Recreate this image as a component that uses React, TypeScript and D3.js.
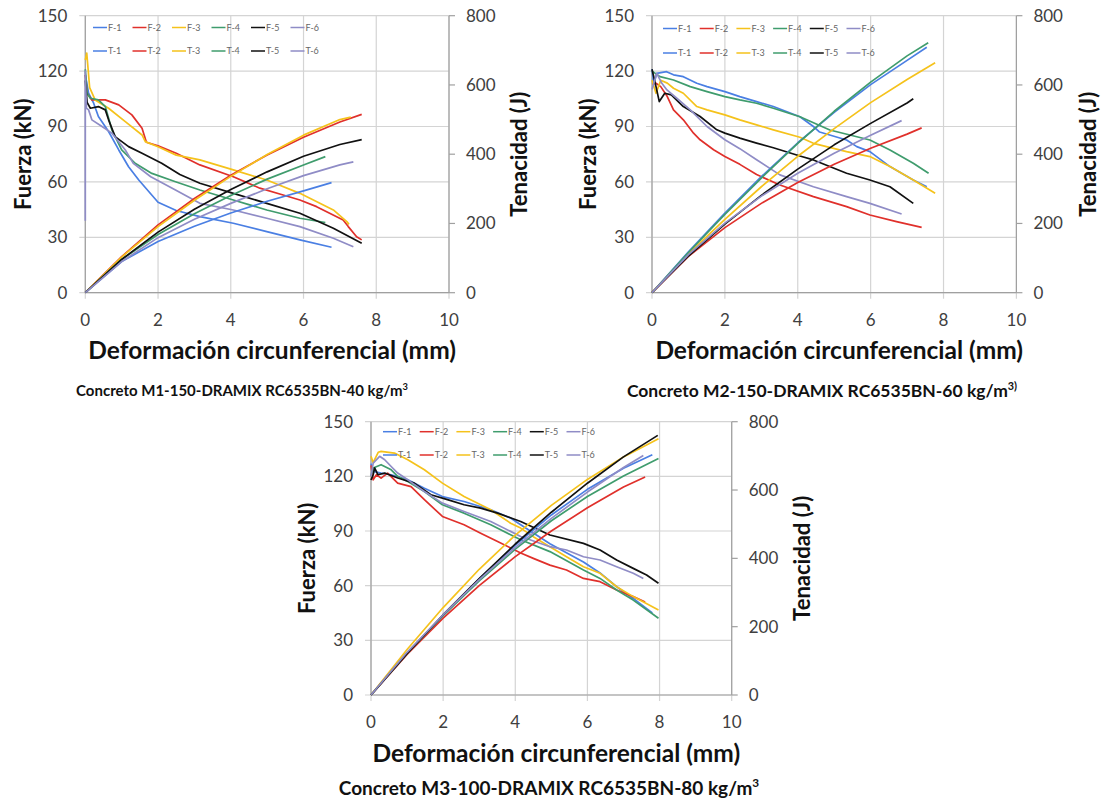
import React from "react";
import * as d3 from "d3";

type Pt = [number, number];

// ---------- axis ticks & labels ----------
const X_TICKS = [0, 2, 4, 6, 8, 10];
const F_TICKS = [0, 30, 60, 90, 120, 150];
const T_TICKS = [0, 200, 400, 600, 800];
const F_LABELS = ["F-1", "F-2", "F-3", "F-4", "F-5", "F-6"];
const T_LABELS = ["T-1", "T-2", "T-3", "T-4", "T-5", "T-6"];
const SERIES_COLORS = ["#4a7fe3", "#e0302b", "#f5c21b", "#3f9c6d", "#111111", "#8f8cc6"];

// ---------- M1 (40 kg/m3) : Fuerza (kN) vs mm ----------
const M1_F1: Pt[] = [[0, 118], [0.09, 108], [0.23, 102.6], [0.36, 95.4], [0.64, 87.3], [0.92, 77.3], [1.19, 68.2], [1.47, 61], [2.0, 49], [2.5, 44.5], [3.15, 41.2], [4.07, 37.6], [4.99, 33.1], [5.9, 28.6], [6.77, 24.6]];
const M1_F2: Pt[] = [[0, 118], [0.05, 108], [0.18, 104.4], [0.55, 104.4], [0.92, 101.7], [1.28, 96.3], [1.56, 89.1], [1.68, 81.5], [2.0, 79.5], [2.5, 75.5], [3.15, 69.2], [4.07, 62.8], [4.8, 56.6], [5.44, 52.9], [5.9, 50.2], [6.36, 46.6], [7.09, 39.4], [7.23, 35.8], [7.46, 30.3], [7.6, 28.6]];
const M1_F3: Pt[] = [[0, 126], [0.04, 129.7], [0.12, 111], [0.27, 104.4], [0.64, 99.9], [1.1, 92.6], [1.56, 85.4], [1.65, 81.8], [2.0, 79], [2.5, 74.5], [3.15, 71.9], [4.07, 66.5], [4.99, 61], [5.9, 53.8], [6.82, 44.8], [7.19, 38.5], [7.25, 37]];
const M1_F4: Pt[] = [[0, 121], [0.05, 108], [0.14, 105.3], [0.36, 104.4], [0.55, 100.8], [0.73, 88.2], [1.0, 77.3], [1.37, 70.1], [1.83, 64.6], [2.48, 60.1], [3.15, 55.6], [4.07, 50.2], [4.99, 44.8], [5.9, 40.3], [6.6, 38]];
const M1_F5: Pt[] = [[0, 115], [0.05, 103], [0.14, 99.9], [0.36, 100.8], [0.55, 99], [0.64, 93.6], [0.82, 84.5], [1.19, 79.1], [1.56, 75.5], [2.1, 70.1], [2.6, 64], [3.15, 59.3], [4.07, 53.8], [4.99, 48.4], [5.9, 43], [6.82, 34.9], [7.6, 26.8]];
const M1_F6: Pt[] = [[0, 39], [0, 120], [0.03, 100], [0.09, 99], [0.18, 93.6], [0.46, 90], [0.73, 86.4], [1.1, 77.3], [1.32, 70], [1.8, 62.8], [2.48, 55.6], [3.15, 48.4], [4.07, 44.8], [4.99, 40.3], [5.9, 35.8], [6.82, 29.5], [7.37, 24.9]];
// ---------- M1 : Tenacidad (J) vs mm ----------
const M1_T1: Pt[] = [[0, 0], [1, 90], [2, 148], [3, 192], [4, 230], [5, 264], [6, 294], [6.77, 318]];
const M1_T2: Pt[] = [[0, 0], [1, 104], [2, 196], [3, 272], [4, 339], [5, 398], [6, 449], [7, 493], [7.6, 515]];
const M1_T3: Pt[] = [[0, 0], [1, 103], [2, 191], [3, 267], [4, 336], [5, 399], [6, 455], [7, 500], [7.3, 507]];
const M1_T4: Pt[] = [[0, 0], [1, 96], [2, 168], [3, 228], [4, 281], [5, 328], [6, 369], [6.6, 393]];
const M1_T5: Pt[] = [[0, 0], [1, 96], [2, 175], [3, 241], [4, 298], [5, 349], [6, 394], [7, 428], [7.6, 442]];
const M1_T6: Pt[] = [[0, 0], [1, 90], [2, 159], [3, 212], [4, 258], [5, 300], [6, 338], [7, 369], [7.37, 378]];

// ---------- M2 (60 kg/m3) ----------
const M2_F1: Pt[] = [[0, 121], [0.05, 113], [0.13, 118.8], [0.4, 119.7], [0.59, 118], [0.86, 117], [1.23, 113.4], [1.51, 111.6], [2.0, 108.9], [2.41, 106.2], [2.87, 103.5], [3.33, 100.8], [4.06, 95.3], [4.43, 90], [4.6, 87], [5.34, 82.7], [5.62, 79.1], [5.98, 76.4], [6.53, 68.3], [7.17, 61], [7.54, 57.4]];
const M2_F2: Pt[] = [[0, 113], [0.11, 113.4], [0.24, 111.6], [0.42, 106.2], [0.59, 99], [0.86, 93.6], [1.14, 86.4], [1.32, 82.8], [1.69, 77.4], [2.0, 73.8], [2.41, 69.5], [2.87, 64], [3.51, 58.3], [4.43, 52], [5.34, 46.6], [5.98, 42.1], [6.71, 38.5], [7.4, 35.4]];
const M2_F3: Pt[] = [[0, 115], [0.11, 108], [0.24, 115], [0.42, 113.5], [0.59, 110.7], [0.86, 108], [1.23, 100.8], [1.51, 99], [2.0, 96.3], [2.41, 93.6], [2.87, 90.9], [3.33, 88.2], [4.06, 84.2], [4.43, 80.9], [5.34, 76.4], [5.98, 73.7], [6.53, 68.3], [7.17, 61], [7.77, 53.8]];
const M2_F4: Pt[] = [[0, 120], [0.22, 117], [0.59, 115.2], [1.05, 111.6], [1.51, 108.9], [2.0, 106.2], [2.41, 104.4], [2.87, 102.6], [3.33, 99.9], [4.06, 95.3], [4.88, 88.1], [5.98, 82.7], [6.53, 77.3], [7.17, 70.1], [7.59, 64.7]];
const M2_F5: Pt[] = [[0, 121], [0.11, 111.6], [0.2, 103.5], [0.35, 108], [0.53, 107.1], [0.86, 100.8], [1.32, 95.4], [1.78, 88.2], [2.0, 86.4], [2.41, 83.7], [2.87, 81], [3.33, 78.5], [4.06, 74], [4.43, 71.9], [5.34, 64.7], [5.98, 61], [6.53, 57.4], [7.17, 48.4]];
const M2_F6: Pt[] = [[0, 110], [0.13, 118.8], [0.27, 113.4], [0.41, 109.8], [0.68, 105.3], [1.05, 99], [1.51, 90], [2.0, 82.8], [2.41, 78], [2.87, 72], [3.51, 63.8], [4.43, 57.4], [5.34, 52], [5.98, 48.4], [6.85, 42.6]];
const M2_T1: Pt[] = [[0, 0], [1, 118], [2, 230], [3, 335], [4, 433], [5, 521], [6, 601], [7, 671], [7.54, 709]];
const M2_T2: Pt[] = [[0, 0], [1, 105], [2, 188], [3, 258], [4, 318], [5, 371], [6, 417], [7, 458], [7.4, 476]];
const M2_T3: Pt[] = [[0, 0], [1, 112], [2, 212], [3, 306], [4, 394], [5, 474], [6, 549], [7, 616], [7.77, 664]];
const M2_T4: Pt[] = [[0, 0], [1, 116], [2, 226], [3, 331], [4, 431], [5, 524], [6, 608], [7, 684], [7.58, 722]];
const M2_T5: Pt[] = [[0, 0], [1, 106], [2, 198], [3, 281], [4, 357], [5, 427], [6, 489], [7, 548], [7.17, 560]];
const M2_T6: Pt[] = [[0, 0], [1, 110], [2, 201], [3, 279], [4, 345], [5, 403], [6, 455], [6.85, 497]];

// ---------- M3 (80 kg/m3) ----------
const M3_F1: Pt[] = [[0, 127], [0.06, 122.7], [0.28, 121.8], [0.56, 120.9], [1.02, 118.1], [1.48, 113.5], [1.98, 108.9], [2.58, 106.2], [3.32, 101.7], [3.87, 97.1], [4.15, 93.4], [4.96, 83], [5.89, 73], [6.35, 67], [6.81, 59.4], [7.27, 53], [7.8, 45]];
const M3_F2: Pt[] = [[0, 126], [0.06, 118.1], [0.15, 120.9], [0.28, 119], [0.46, 121.8], [0.74, 116.3], [1.11, 114.4], [1.48, 107.2], [1.98, 98], [2.58, 93.4], [3.04, 88.8], [3.51, 84.3], [4.15, 77.9], [4.5, 75], [4.96, 71.3], [5.42, 68.6], [5.89, 64], [6.35, 62.2], [6.81, 57.6], [7.27, 54], [7.6, 51]];
const M3_F3: Pt[] = [[0, 131], [0.06, 127.5], [0.2, 133.2], [0.28, 133.7], [0.65, 132.8], [1.02, 129.1], [1.48, 123.6], [1.98, 116.3], [2.58, 109], [3.32, 101.7], [3.87, 94.3], [4.15, 91.6], [4.5, 86.9], [4.96, 81.4], [5.42, 75.9], [5.89, 70.4], [6.35, 66.8], [6.81, 59.4], [7.27, 54], [7.97, 46.6]];
const M3_F4: Pt[] = [[0, 120], [0.06, 124.6], [0.28, 126.4], [0.56, 123.6], [0.74, 120], [1.02, 117.2], [1.48, 111.7], [1.98, 104.4], [2.58, 99.8], [3.32, 93.4], [3.87, 87.9], [4.15, 85.2], [4.96, 78.7], [5.89, 68.6], [6.35, 64], [6.81, 57.6], [7.27, 52.1], [7.97, 42.1]];
const M3_F5: Pt[] = [[0, 118], [0.06, 120.9], [0.1, 124.6], [0.19, 120.9], [0.38, 121.8], [0.74, 119.1], [1.2, 116.3], [1.66, 109.9], [2.12, 107.2], [2.58, 104.4], [3.04, 102.6], [3.51, 99.8], [4.15, 95.2], [4.96, 87.8], [5.89, 83.2], [6.35, 79.6], [6.81, 74.1], [7.27, 69.5], [7.64, 65.9], [7.97, 61.3]];
const M3_F6: Pt[] = [[0, 120], [0.06, 127.3], [0.24, 131], [0.38, 129.1], [0.56, 125.4], [0.74, 121.8], [1.02, 118.1], [1.48, 111.7], [1.98, 105.3], [2.58, 100.7], [3.32, 95.2], [3.87, 89.8], [4.15, 87], [4.96, 81.4], [5.42, 79.6], [5.89, 75.9], [6.35, 74.1], [6.81, 70.4], [7.27, 66.8], [7.55, 64]];
const M3_T1: Pt[] = [[0, 0], [1, 121], [2, 234], [3, 340], [4, 439], [5, 527], [6, 602], [7, 664], [7.8, 703]];
const M3_T2: Pt[] = [[0, 0], [1, 119], [2, 225], [3, 320], [4, 405], [5, 480], [6, 548], [7, 609], [7.6, 638]];
const M3_T3: Pt[] = [[0, 0], [1, 133], [2, 256], [3, 368], [4, 468], [5, 555], [6, 631], [7, 697], [7.97, 750]];
const M3_T4: Pt[] = [[0, 0], [1, 122], [2, 232], [3, 334], [4, 427], [5, 510], [6, 581], [7, 641], [7.97, 692]];
const M3_T5: Pt[] = [[0, 0], [1, 121], [2, 235], [3, 341], [4, 442], [5, 535], [6, 620], [7, 697], [7.95, 760]];
const M3_T6: Pt[] = [[0, 0], [1, 125], [2, 235], [3, 338], [4, 432], [5, 517], [6, 594], [7, 666], [7.55, 701]];

const FONT = "Lato, 'Open Sans', 'DejaVu Sans', sans-serif";

type PanelCfg = {
  x0: number; x1: number; yTop: number; yBot: number;
  fuerza: Pt[][]; tenacidad: Pt[][];
  legendX: number; legendStep: number; legendY1: number; legendY2: number;
  leftLabelX: number; rightLabelX: number;
  title: string; titleSup: string; titleX: number; titleY: number; titleSize: number;
};

const PANELS: PanelCfg[] = [
  {
    x0: 85.3, x1: 449, yTop: 15.7, yBot: 292.7,
    fuerza: [M1_F1, M1_F2, M1_F3, M1_F4, M1_F5, M1_F6],
    tenacidad: [M1_T1, M1_T2, M1_T3, M1_T4, M1_T5, M1_T6],
    legendX: 93, legendStep: 39.5, legendY1: 27.5, legendY2: 51,
    leftLabelX: 23, rightLabelX: 519,
    title: "Concreto M1-150-DRAMIX RC6535BN-40 kg/m", titleSup: "3", titleX: 242, titleY: 391, titleSize: 15,
  },
  {
    x0: 652, x1: 1016.4, yTop: 15.7, yBot: 292.7,
    fuerza: [M2_F1, M2_F2, M2_F3, M2_F4, M2_F5, M2_F6],
    tenacidad: [M2_T1, M2_T2, M2_T3, M2_T4, M2_T5, M2_T6],
    legendX: 663, legendStep: 36.7, legendY1: 28.5, legendY2: 53,
    leftLabelX: 588, rightLabelX: 1088,
    title: "Concreto M2-150-DRAMIX RC6535BN-60 kg/m", titleSup: "3)", titleX: 822, titleY: 391, titleSize: 17.5,
  },
  {
    x0: 371, x1: 731.7, yTop: 421.7, yBot: 695,
    fuerza: [M3_F1, M3_F2, M3_F3, M3_F4, M3_F5, M3_F6],
    tenacidad: [M3_T1, M3_T2, M3_T3, M3_T4, M3_T5, M3_T6],
    legendX: 383, legendStep: 36.7, legendY1: 431.7, legendY2: 455,
    leftLabelX: 307, rightLabelX: 802,
    title: "Concreto M3-100-DRAMIX RC6535BN-80 kg/m", titleSup: "3", titleX: 549, titleY: 788, titleSize: 19,
  },
];

function Panel({ cfg }: { cfg: PanelCfg }) {
  const x = d3.scaleLinear().domain([0, 10]).range([cfg.x0, cfg.x1]);
  const yF = d3.scaleLinear().domain([0, 150]).range([cfg.yBot, cfg.yTop]);
  const yT = d3.scaleLinear().domain([0, 800]).range([cfg.yBot, cfg.yTop]);
  const lineF = d3.line<Pt>().x((d) => x(d[0])).y((d) => yF(d[1]));
  const lineT = d3.line<Pt>().x((d) => x(d[0])).y((d) => yT(d[1]));
  const midY = (cfg.yTop + cfg.yBot) / 2;
  const midX = (cfg.x0 + cfg.x1) / 2;
  const grid = "#d4d4d4";
  const axis = "#a0a0a0";
  const tickColor = "#404040";

  return (
    <g>
      {F_TICKS.map((t) => (
        <line key={"hg" + t} x1={cfg.x0 - 6} x2={cfg.x1} y1={yF(t)} y2={yF(t)} stroke={grid} strokeWidth={1.2} />
      ))}
      {X_TICKS.map((t) => (
        <line key={"vg" + t} x1={x(t)} x2={x(t)} y1={cfg.yTop} y2={cfg.yBot + 6} stroke={grid} strokeWidth={1.2} />
      ))}
      <line x1={cfg.x0} x2={cfg.x0} y1={cfg.yTop} y2={cfg.yBot} stroke={axis} strokeWidth={1.2} />
      <line x1={cfg.x1} x2={cfg.x1} y1={cfg.yTop} y2={cfg.yBot} stroke={axis} strokeWidth={1.2} />
      <line x1={cfg.x0} x2={cfg.x1} y1={cfg.yBot} y2={cfg.yBot} stroke={axis} strokeWidth={1.2} />
      {T_TICKS.map((t) => (
        <line key={"rt" + t} x1={cfg.x1} x2={cfg.x1 + 6} y1={yT(t)} y2={yT(t)} stroke={axis} strokeWidth={1.2} />
      ))}

      {F_TICKS.map((t) => (
        <text key={"fl" + t} x={cfg.x0 - 18} y={yF(t)} dy="0.35em" textAnchor="end" fontSize={17} fill={tickColor} fontFamily={FONT}>
          {t}
        </text>
      ))}
      {T_TICKS.map((t) => (
        <text key={"tl" + t} x={cfg.x1 + 17} y={yT(t)} dy="0.35em" textAnchor="start" fontSize={17} fill={tickColor} fontFamily={FONT}>
          {t}
        </text>
      ))}
      {X_TICKS.map((t) => (
        <text key={"xl" + t} x={x(t)} y={cfg.yBot + 27} dy="0.35em" textAnchor="middle" fontSize={17} fill={tickColor} fontFamily={FONT}>
          {t}
        </text>
      ))}

      <text transform={`translate(${cfg.leftLabelX},${midY}) rotate(-90)`} textAnchor="middle" dy="0.35em" fontSize={22} fontWeight="bold" fill="#111" fontFamily={FONT}>
        Fuerza (kN)
      </text>
      <text transform={`translate(${cfg.rightLabelX},${midY}) rotate(-90)`} textAnchor="middle" dy="0.35em" fontSize={22} fontWeight="bold" fill="#111" fontFamily={FONT}>
        Tenacidad (J)
      </text>
      <text x={midX + 5} y={cfg.yBot + 58} dy="0.35em" textAnchor="middle" fontSize={24.5} fontWeight="bold" fill="#111" fontFamily={FONT}>
        Deformación circunferencial (mm)
      </text>

      {cfg.fuerza.map((s, i) => (
        <path key={"f" + i} d={lineF(s) || ""} fill="none" stroke={SERIES_COLORS[i]} strokeWidth={1.7} strokeLinejoin="round" />
      ))}
      {cfg.tenacidad.map((s, i) => (
        <path key={"t" + i} d={lineT(s) || ""} fill="none" stroke={SERIES_COLORS[i]} strokeWidth={1.7} strokeLinejoin="round" />
      ))}

      {F_LABELS.map((lab, i) => (
        <g key={"lf" + i} transform={`translate(${cfg.legendX + i * cfg.legendStep},${cfg.legendY1})`}>
          <line x1={0} x2={14} y1={0} y2={0} stroke={SERIES_COLORS[i]} strokeWidth={1.5} />
          <text x={15} y={0} dy="0.35em" fontSize={9} fill="#666" fontFamily={FONT}>{lab}</text>
        </g>
      ))}
      {T_LABELS.map((lab, i) => (
        <g key={"lt" + i} transform={`translate(${cfg.legendX + i * cfg.legendStep},${cfg.legendY2})`}>
          <line x1={0} x2={14} y1={0} y2={0} stroke={SERIES_COLORS[i]} strokeWidth={1.5} />
          <text x={15} y={0} dy="0.35em" fontSize={9} fill="#666" fontFamily={FONT}>{lab}</text>
        </g>
      ))}

      <text x={cfg.titleX} y={cfg.titleY} dy="0.35em" textAnchor="middle" fontSize={cfg.titleSize} fontWeight="bold" fill="#111" fontFamily={FONT}>
        {cfg.title}
        <tspan dy={-cfg.titleSize * 0.42} fontSize={cfg.titleSize * 0.62}>{cfg.titleSup}</tspan>
      </text>
    </g>
  );
}

export default function App() {
  return (
    <svg width={1102} height={801} style={{ position: "absolute", left: 0, top: 0, background: "#fff" }}>
      <rect x={0} y={0} width={1102} height={801} fill="#fff" />
      {PANELS.map((p, i) => (
        <Panel key={i} cfg={p} />
      ))}
    </svg>
  );
}
